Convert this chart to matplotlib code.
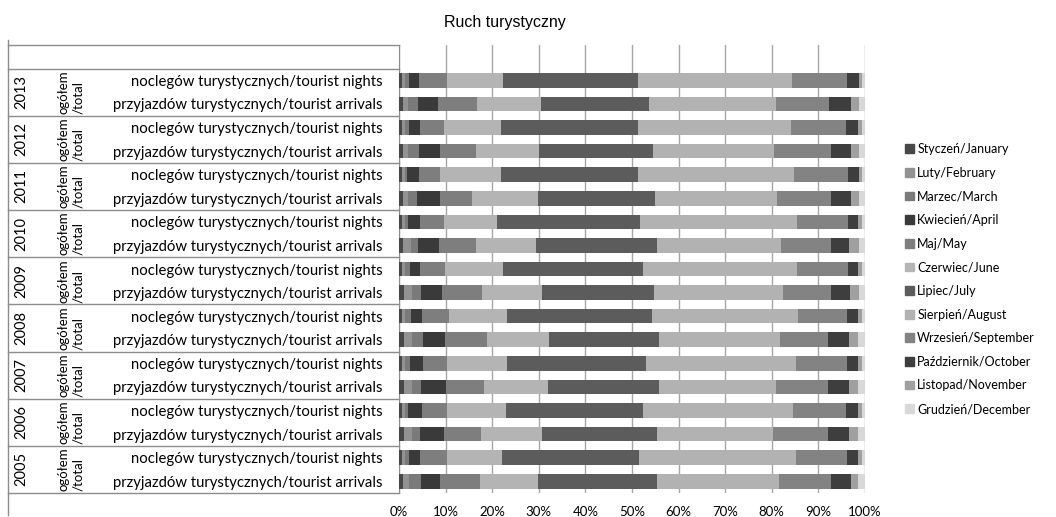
import matplotlib
matplotlib.use("Agg")
import matplotlib.pyplot as plt
import matplotlib.patches as mpatches
from matplotlib.transforms import blended_transform_factory
import numpy as np

plt.rcParams['font.family'] = ['Lato', 'DejaVu Sans']

# rows from top to bottom: for each year nights, then arrivals
years = ['2013', '2012', '2011', '2010', '2009', '2008', '2007', '2006', '2005']
row_labels = ['noclegów turystycznych/tourist nights',
              'przyjazdów turystycznych/tourist arrivals'] * len(years)

months = ['Styczeń/January', 'Luty/February', 'Marzec/March', 'Kwiecień/April',
          'Maj/May', 'Czerwiec/June', 'Lipiec/July', 'Sierpień/August',
          'Wrzesień/September', 'Październik/October', 'Listopad/November',
          'Grudzień/December']

# monthly shares (%) per row
jan = [0.7, 0.9, 0.7, 0.9, 0.7, 0.9, 0.7, 0.9, 0.7, 1.1, 0.7, 1.1, 0.7, 1.1, 0.7, 1.1, 0.6, 0.9]
feb = [0.5, 1.1, 0.5, 1.1, 0.5, 1.1, 0.5, 1.6, 0.6, 1.6, 0.6, 1.6, 0.6, 1.6, 0.6, 1.6, 0.6, 1.3]
mar = [1.0, 2.1, 0.9, 2.3, 0.6, 1.9, 0.7, 1.6, 1.0, 2.0, 1.3, 2.5, 1.0, 2.0, 0.7, 1.7, 0.9, 2.5]
apr = [2.0, 4.3, 2.3, 4.6, 2.5, 5.0, 2.5, 4.5, 2.3, 4.6, 2.3, 4.7, 2.9, 5.3, 2.9, 5.3, 2.5, 4.2]
may = [6.0, 8.4, 5.3, 7.6, 4.6, 6.8, 5.3, 7.9, 5.3, 8.5, 5.8, 8.9, 5.2, 8.2, 5.3, 7.8, 5.8, 8.4]
jun = [12.2, 13.6, 12.1, 13.6, 12.9, 14.2, 11.3, 12.8, 12.4, 12.8, 12.5, 13.4, 12.8, 13.8, 12.7, 13.1, 11.8, 12.6]
jul = [28.8, 23.3, 29.5, 24.3, 29.5, 25.0, 30.8, 26.0, 30.0, 24.1, 31.0, 23.6, 29.7, 23.8, 29.5, 24.7, 29.3, 25.4]
aug = [33.1, 27.1, 32.8, 26.1, 33.5, 26.3, 33.7, 26.7, 33.2, 27.6, 31.5, 25.9, 32.3, 25.2, 32.1, 25.0, 33.7, 26.2]
sep = [11.8, 11.5, 11.8, 12.1, 11.5, 11.4, 10.8, 10.6, 10.8, 10.3, 10.4, 10.4, 10.9, 11.1, 11.4, 11.8, 10.9, 11.1]
octo = [2.7, 4.8, 2.7, 4.5, 2.5, 4.5, 2.3, 4.0, 2.3, 4.2, 2.5, 4.5, 2.3, 4.5, 2.7, 4.5, 2.5, 4.4]
nov = [0.6, 1.7, 0.7, 1.7, 0.6, 1.7, 0.7, 2.2, 0.7, 2.0, 0.7, 2.0, 0.9, 1.8, 0.7, 1.8, 0.7, 1.6]
dec = [0.6, 1.2, 0.7, 1.2, 0.6, 1.2, 0.7, 1.2, 0.7, 1.2, 0.7, 1.4, 0.7, 1.6, 0.7, 1.6, 0.7, 1.4]

colors = ['#484848', '#929292', '#7a7a7a', '#3a3a3a', '#7e7e7e', '#b4b4b4',
          '#5c5c5c', '#b2b2b2', '#838383', '#3e3e3e', '#a0a0a0', '#d8d8d8']

data = np.array([jan, feb, mar, apr, may, jun, jul, aug, sep, octo, nov, dec])
data = data / data.sum(axis=0) * 100  # 100% stacked

W, H = 1056, 517
fig = plt.figure(figsize=(W / 100, H / 100), dpi=100)
ax = fig.add_axes([399 / W, 24 / H, 466 / W, 448 / H])

y = np.arange(len(row_labels))
left = np.zeros(len(y))
for vals, col, name in zip(data, colors, months):
    ax.barh(y, vals, left=left, height=0.62, color=col, label=name, zorder=3)
    left += vals

ax.set_xlim(0, 100)
ax.set_ylim(17.5, -1.5)
ax.set_xticks(np.arange(0, 101, 10))
ax.set_xticklabels([f'{v}%' for v in range(0, 101, 10)], fontsize=9.5)
ax.set_yticks(y)
ax.set_yticklabels(row_labels, fontsize=10.7)
ax.tick_params(axis='both', length=0)
ax.tick_params(axis='y', pad=12)
ax.tick_params(axis='x', pad=9)
ax.grid(axis='x', color='#a6a6a6', linewidth=1, zorder=0)
for s in ['top', 'right', 'bottom']:
    ax.spines[s].set_visible(False)
ax.spines['left'].set_color('#8c8c8c')

# label table on the left
tr = blended_transform_factory(fig.transFigure, ax.transData)
x0, x1 = 8 / W, 399 / W
for b in [-1.5, -0.5] + [1.5 + 2 * i for i in range(8)] + [17.5]:
    ax.plot([x0, x1], [b, b], transform=tr, color='#8c8c8c', lw=1, clip_on=False)
fig.add_artist(plt.Line2D([x0, x0], [2 / H, 1 - 40 / H], color='#8c8c8c', lw=1))
for i, yr in enumerate(years):
    yc = 2 * i + 0.5
    ax.text(21 / W, yc, yr, transform=tr, rotation=90, ha='center', va='center', fontsize=10.5)
    ax.text(71 / W, yc, 'ogółem\n/total', transform=tr, rotation=90, ha='center',
            va='center', fontsize=9.5, linespacing=1.3, multialignment='left')

handles = [mpatches.Patch(color=c, label=m) for c, m in zip(colors, months)]
fig.legend(handles=handles, loc='upper left', bbox_to_anchor=(894 / W, 1 - 132 / H),
           frameon=False, fontsize=9, handlelength=0.7, handleheight=0.7,
           handletextpad=0.25, labelspacing=0.93)

fig.text(505 / W, 1 - 23 / H, 'Ruch turystyczny', ha='center', va='center',
         fontsize=11.5, family='Liberation Sans')

fig.savefig('out.png', dpi=100)
